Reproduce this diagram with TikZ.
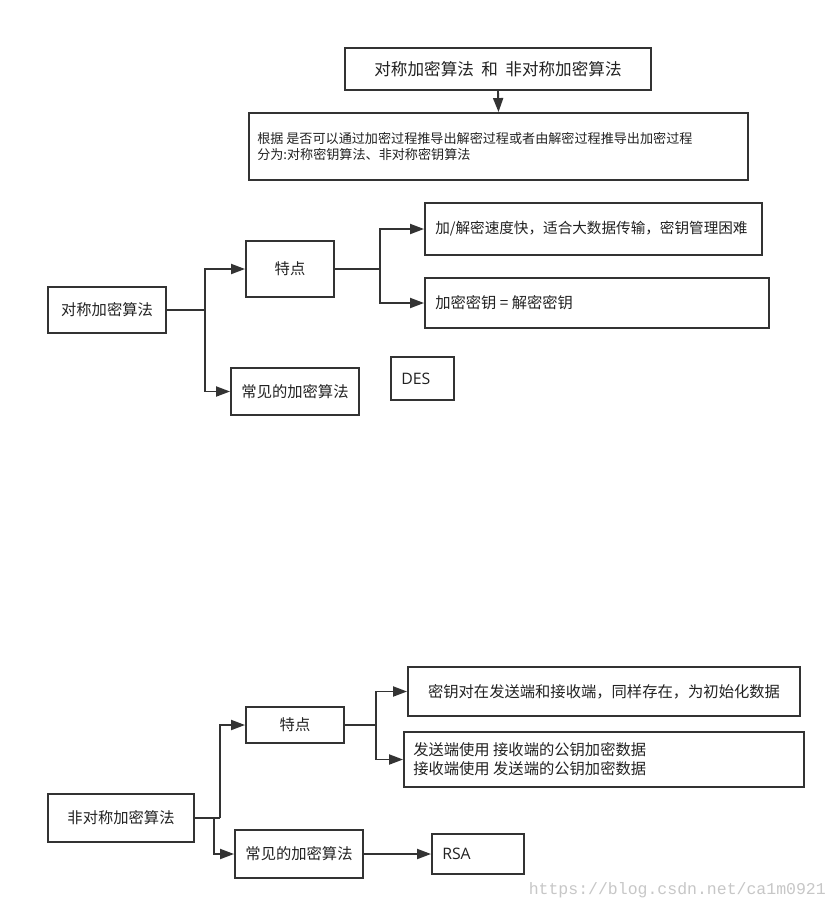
\documentclass[tikz,border=0pt]{standalone}
\usepackage{fontspec}
\setmainfont{Noto Sans CJK SC}
\newfontfamily\wmfont{Liberation Mono}
\newfontfamily\latinfont{Open Sans}
\usetikzlibrary{arrows.meta}
\definecolor{ln}{HTML}{333333}
\definecolor{tx}{HTML}{222222}
\begin{document}
\begin{tikzpicture}[x=1pt,y=-1pt,
  box/.style={draw=ln, line width=1.9pt, rectangle, inner sep=0pt, font=\fontsize{15.3}{17}\selectfont, text=tx},
  txt/.style={inner sep=0pt, font=\fontsize{15.3}{17}\selectfont, text=tx, align=left},
  conn/.style={draw=ln, line width=1.9pt},
  arr/.style={conn, -{Triangle[length=14pt,width=10pt]}}]
\useasboundingbox[fill=white] (0,0) rectangle (836,911);
% top
\node[box, minimum width=306pt, minimum height=42pt, font=\fontsize{16.6}{18}\selectfont] (title) at (498,69) {对称加密算法\ \ 和\ \ 非对称加密算法};
\node[box, minimum width=499pt, minimum height=67pt] (desc) at (498.5,146.5) {};
\node[txt, anchor=west, font=\fontsize{13.1}{16}\selectfont] (desct) at ([xshift=9pt]desc.west) {根据 是否可以通过加密过程推导出解密过程或者由解密过程推导出加密过程\\分为:对称密钥算法、非对称密钥算法};
\draw[arr] (title.south) -- (desc.north);
% symmetric
\node[box, minimum width=118pt, minimum height=46pt] (a1) at (107,310) {对称加密算法};
\node[box, minimum width=88pt, minimum height=56pt] (a2) at (290,269) {特点};
\node[box, minimum width=128pt, minimum height=47pt] (a3) at (295,391.5) {常见的加密算法};
\node[box, minimum width=63pt, minimum height=43pt] (des) at (422.5,378.5) {};
\node[txt, anchor=west, font=\latinfont\fontsize{15.8}{17}\selectfont] (dest) at ([xshift=11pt]des.west) {DES};
\node[box, minimum width=337pt, minimum height=52pt] (a4) at (593.5,229) {};
\node[txt, anchor=west, font=\fontsize{14.6}{17}\selectfont] (a4t) at ([xshift=11pt]a4.west) {加/解密速度快，适合大数据传输，密钥管理困难};
\node[box, minimum width=344pt, minimum height=50pt] (a5) at (597,303) {};
\node[txt, anchor=west] (a5t) at ([xshift=11pt]a5.west) {加密密钥 = 解密密钥};
\draw[conn] (a1.east) -- (205,310) coordinate (j1);
\draw[arr] (j1) |- (a2.west);
\draw[arr] (j1) |- (a3.west);
\draw[conn] (a2.east) -- (380,269) coordinate (j2);
\draw[arr] (j2) |- (a4.west);
\draw[arr] (j2) |- (a5.west);
% asymmetric
\node[box, minimum width=146pt, minimum height=48pt] (b1) at (121,818) {非对称加密算法};
\node[box, minimum width=98pt, minimum height=36pt] (b2) at (295,725) {特点};
\node[box, minimum width=128pt, minimum height=48pt] (b3) at (299,854) {常见的加密算法};
\node[box, minimum width=92pt, minimum height=40pt] (rsa) at (478,854) {};
\node[txt, anchor=west, font=\latinfont\fontsize{15.8}{17}\selectfont] (rsat) at ([xshift=11pt]rsa.west) {RSA};
\node[box, minimum width=392pt, minimum height=49pt] (b4) at (604,691.5) {密钥对在发送端和接收端，同样存在，为初始化数据};
\node[box, minimum width=400pt, minimum height=55pt] (b5) at (604,759.5) {};
\node[txt, anchor=west, font=\fontsize{15.3}{19}\selectfont] (b5t) at ([xshift=10pt]b5.west) {发送端使用 接收端的公钥加密数据\\接收端使用 发送端的公钥加密数据};
\draw[conn] (b1.east) -- (220,818) coordinate (k1);
\draw[arr] (k1) |- (b2.west);
\draw[arr] (214,818) coordinate (k2) |- (b3.west);
\draw[conn] (b2.east) -- (376,725) coordinate (k3);
\draw[arr] (k3) |- (b4.west);
\draw[arr] (k3) |- (b5.west);
\draw[arr] (b3.east) -- (rsa.west);
% watermark
\node[inner sep=0pt, anchor=east, text=black!22, font=\wmfont\fontsize{16.5}{18}\selectfont] (wm) at (826,890) {https://blog.csdn.net/ca1m0921};
\end{tikzpicture}
\end{document}
